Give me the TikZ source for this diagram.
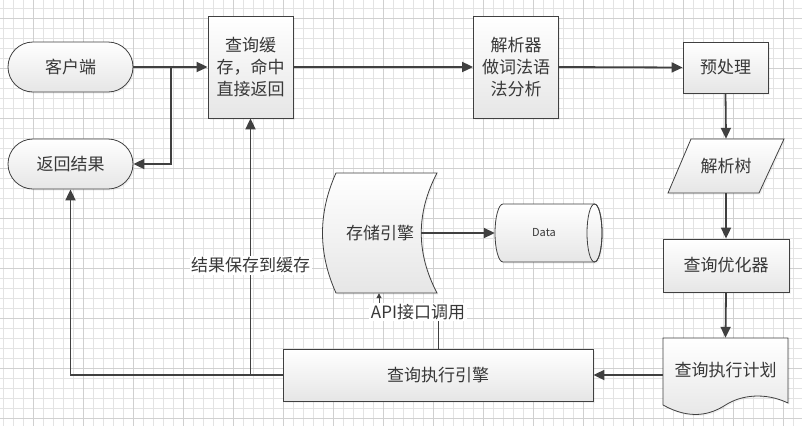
\documentclass[tikz,border=0pt]{standalone}
\usepackage{fontspec}
\newfontfamily\cjk{Noto Sans CJK SC}
\usetikzlibrary{arrows.meta,shadows,calc}
\definecolor{ln}{HTML}{404040}
\definecolor{gminor}{HTML}{E3E3E3}
\definecolor{gmajor}{HTML}{D0D0D0}
\definecolor{txt}{HTML}{383838}
\definecolor{fillbot}{HTML}{E6E6E6}
\begin{document}
\begin{tikzpicture}[x=1pt,y=-1pt,
  shp/.style={draw=ln, line width=0.8pt, top color=white, bottom color=fillbot,
    drop shadow={shadow xshift=1.5pt,shadow yshift=-1.5pt,opacity=0.10}},
  lbl/.style={font=\cjk\fontsize{17}{21.7}\selectfont, text=txt, align=center, inner sep=0pt},
  box/.style={shp, lbl, rectangle},
  conn/.style={draw=ln, line width=1.8pt, -{Triangle[length=11pt,width=10pt]}},
  apiconn/.style={draw=ln, line width=1pt, -{Triangle[length=5pt,width=5pt]}},
  edgelbl/.style={lbl, fill=white, inner sep=1.5pt}
]
\useasboundingbox (0,0) rectangle (802,426);
\fill[white] (0,0) rectangle (802,426);
% grid
\foreach \i in {0,...,79} \draw[gminor, line width=0.7pt] (3.3+10*\i,0) -- (3.3+10*\i,426);
\foreach \j in {0,...,41} \draw[gminor, line width=0.7pt] (0,8.3+10*\j) -- (802,8.3+10*\j);
\foreach \i in {0,...,15} \draw[gmajor, line width=0.7pt] (33.3+50*\i,0) -- (33.3+50*\i,426);
\foreach \j in {0,...,8} \draw[gmajor, line width=0.7pt] (0,18.3+50*\j) -- (802,18.3+50*\j);

% nodes
\node[box, minimum width=125pt, minimum height=50pt, rounded corners=25pt] (client) at (70.5,67) {客户端};
\node[box, minimum width=125pt, minimum height=50pt, rounded corners=25pt] (result) at (70.5,164) {返回结果};
\node[box, minimum width=85pt, minimum height=102pt] (cache) at (250.5,67) {查询缓\\存，命中\\直接返回};
\node[box, minimum width=85pt, minimum height=102pt] (parser) at (516,67) {解析器\\做词法语\\法分析};
\node[box, minimum width=85pt, minimum height=51pt] (pre) at (725.5,67.5) {预处理};

% parse tree (parallelogram)
\path[shp] (691,139) -- (784,139) -- (759,193) -- (668,193) -- cycle;
\node[lbl, minimum width=116pt, minimum height=54pt] (tree) at (726,166) {解析树};

\node[box, minimum width=126pt, minimum height=53pt] (opt) at (726,265.5) {查询优化器};

% execution plan (document shape)
\path[shp] (663,338) -- (788,338) -- (788,403)
  .. controls (765,392) and (741,395) .. (725.5,405)
  .. controls (710,415) and (690,420) .. (663,405) -- cycle;
\node[lbl, minimum width=125pt, minimum height=67pt] (plan) at (725.5,371.5) {\raisebox{4pt}{查询执行计划}};

\node[box, minimum width=310pt, minimum height=52pt] (exec) at (438,375) {查询执行引擎};

% storage engine
\path[shp] (336,173) -- (437,173)
  .. controls (416,213) and (416,253) .. (437,293) -- (336,293)
  .. controls (318,253) and (318,213) .. (336,173) -- cycle;
\node[lbl, minimum width=101pt, minimum height=120pt] (storage) at (386.5,233) {\hspace*{-13pt}存储引擎};

% data cylinder
\path[shp] (503,204) -- (594.5,204) arc[start angle=-90,end angle=90,x radius=7.5,y radius=29]
  -- (503,262) arc[start angle=90,end angle=270,x radius=8,y radius=29] -- cycle;
\draw[ln, line width=0.8pt] (594.5,233) ellipse [x radius=7.5, y radius=29];
\node[lbl, font=\cjk\fontsize{11}{13}\selectfont, minimum width=107pt, minimum height=58pt] (data) at (548.5,233) {\hspace*{-9pt}Data};

% connectors
\coordinate (j1) at (171,67);
\draw[conn] (client.east) -- (cache.west);
\draw[conn] (j1) |- (result.east);
\draw[conn] (cache.east) -- (parser.west);
\draw[conn] (parser.east) -- (pre.west);
\draw[conn] (pre.south) -- (tree.north);
\draw[conn] (tree.south) -- (opt.north);
\draw[conn] (opt.south) -- (plan.north);
\draw[conn] (exec.east -| plan.west) -- (exec.east);
\draw[conn] (exec.west) -| (result.south);
\draw[conn] (cache.south |- exec.west) -- node[edgelbl, pos=0.428] (savelbl) {结果保存到缓存} (cache.south);
\draw[conn] ([xshift=-16pt]storage.east) -- (data.west);
\coordinate (apib) at (379,312);
\draw[apiconn] (exec.north) |- (apib) -- (apib |- storage.south);
\node[edgelbl] (apilbl) at (418,312) {API接口调用};
\end{tikzpicture}
\end{document}
